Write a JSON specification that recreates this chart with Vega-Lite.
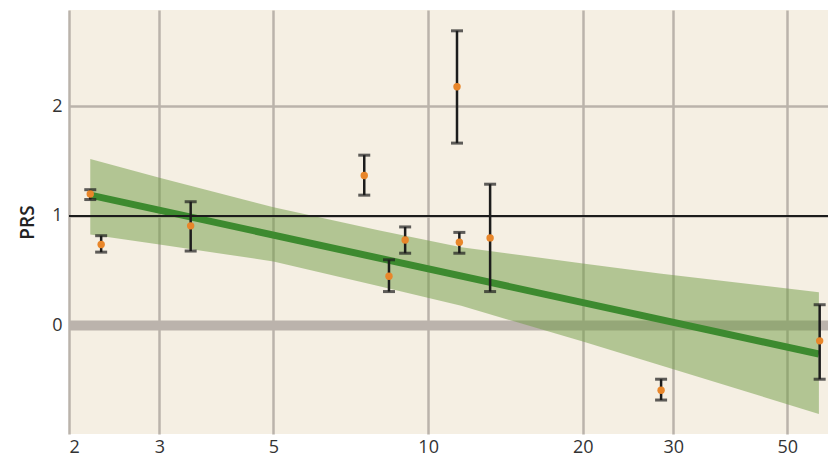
{
  "$schema": "https://vega.github.io/schema/vega-lite/v6.json",
  "width": 759,
  "height": 424,
  "autosize": {"type": "none"},
  "padding": {"left": 69, "top": 10, "right": 0, "bottom": 28},
  "background": "#ffffff",
  "config": {
    "view": {"fill": "#f5efe3", "stroke": null},
    "font": "Open Sans",
    "axis": {
      "domain": false,
      "ticks": false,
      "gridColor": "#bab3ab",
      "gridWidth": 2.5,
      "gridOpacity": 1,
      "labelFontSize": 18,
      "labelColor": "#333333",
      "labelFont": "Open Sans",
      "titleFont": "Open Sans"
    }
  },
  "datasets": {
    "one": [{"k": 1}],
    "pts": [
      {"x": 2.2, "y": 1.2, "lo": 1.15, "hi": 1.24},
      {"x": 2.31, "y": 0.74, "lo": 0.67, "hi": 0.82},
      {"x": 3.45, "y": 0.91, "lo": 0.68, "hi": 1.13},
      {"x": 7.51, "y": 1.37, "lo": 1.19, "hi": 1.555},
      {"x": 8.39, "y": 0.45, "lo": 0.31, "hi": 0.6},
      {"x": 9.02, "y": 0.78, "lo": 0.66, "hi": 0.9},
      {"x": 11.38, "y": 2.18, "lo": 1.665, "hi": 2.69},
      {"x": 11.5, "y": 0.76, "lo": 0.66, "hi": 0.85},
      {"x": 13.2, "y": 0.8, "lo": 0.31, "hi": 1.29},
      {"x": 28.4, "y": -0.59, "lo": -0.68, "hi": -0.49},
      {"x": 57.8, "y": -0.14, "lo": -0.49, "hi": 0.19}
    ],
    "band": [
      {"x": 2.2, "lower": 0.83, "upper": 1.52},
      {"x": 3.0, "lower": 0.74, "upper": 1.35},
      {"x": 5.0, "lower": 0.585, "upper": 1.08},
      {"x": 8.0, "lower": 0.36, "upper": 0.87},
      {"x": 11.6, "lower": 0.18, "upper": 0.715},
      {"x": 20.0, "lower": -0.146, "upper": 0.567},
      {"x": 28.2, "lower": -0.36, "upper": 0.475},
      {"x": 57.6, "lower": -0.807, "upper": 0.304}
    ],
    "fit": [
      {"x": 2.2, "y": 1.19},
      {"x": 57.6, "y": -0.26}
    ]
  },
  "layer": [
    {
      "data": {"name": "one"},
      "mark": {"type": "rule", "color": "#bbb3ac", "strokeWidth": 10},
      "encoding": {
        "y": {
          "datum": 0,
          "type": "quantitative",
          "scale": {"domain": [-0.99, 2.88], "nice": false, "zero": false},
          "axis": {
            "values": [0, 1, 2],
            "format": ".0f",
            "grid": true,
            "gridColor": "#bab3ab",
            "labelPadding": 7,
            "title": "PRS",
            "titleFontSize": 19,
            "titleFontWeight": 600,
            "titleColor": "#222222",
            "titlePadding": 14
          }
        }
      }
    },
    {
      "data": {"name": "band"},
      "mark": {"type": "area", "color": "#6f9b43", "opacity": 0.5},
      "encoding": {
        "x": {
          "field": "x",
          "type": "quantitative",
          "scale": {"type": "log", "domain": [2, 60], "nice": false},
          "axis": {
            "values": [2, 3, 5, 10, 20, 30, 50],
            "grid": true,
            "labelPadding": 4,
            "title": null
          }
        },
        "y": {"field": "upper", "type": "quantitative"},
        "y2": {"field": "lower"}
      }
    },
    {
      "data": {"name": "fit"},
      "mark": {"type": "line", "color": "#3d8a2f", "strokeWidth": 7},
      "encoding": {
        "x": {"field": "x", "type": "quantitative"},
        "y": {"field": "y", "type": "quantitative"}
      }
    },
    {
      "data": {"name": "one"},
      "mark": {"type": "rule", "color": "#1c1c1c", "strokeWidth": 2},
      "encoding": {"y": {"datum": 1, "type": "quantitative"}}
    },
    {
      "data": {"name": "pts"},
      "mark": {"type": "rule", "color": "#1c1c1c", "strokeWidth": 2.5},
      "encoding": {
        "x": {"field": "x", "type": "quantitative"},
        "y": {"field": "lo", "type": "quantitative"},
        "y2": {"field": "hi"}
      }
    },
    {
      "data": {"name": "pts"},
      "mark": {"type": "tick", "color": "#1c1c1c", "orient": "horizontal", "size": 12, "thickness": 3},
      "encoding": {
        "x": {"field": "x", "type": "quantitative"},
        "y": {"field": "lo", "type": "quantitative"}
      }
    },
    {
      "data": {"name": "pts"},
      "mark": {"type": "tick", "color": "#1c1c1c", "orient": "horizontal", "size": 12, "thickness": 3},
      "encoding": {
        "x": {"field": "x", "type": "quantitative"},
        "y": {"field": "hi", "type": "quantitative"}
      }
    },
    {
      "data": {"name": "pts"},
      "mark": {"type": "circle", "color": "#e8862a", "opacity": 1, "size": 55},
      "encoding": {
        "x": {"field": "x", "type": "quantitative"},
        "y": {"field": "y", "type": "quantitative"}
      }
    }
  ]
}
